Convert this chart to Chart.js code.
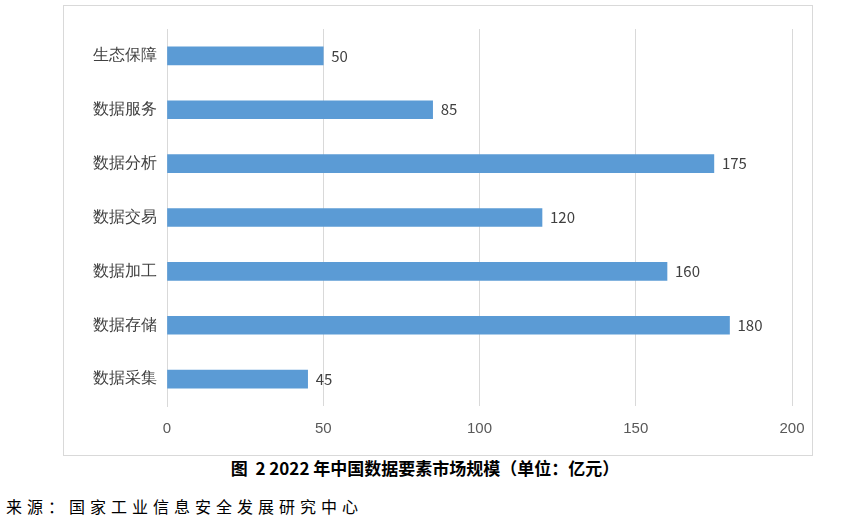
<!DOCTYPE html>
<html><head><meta charset="utf-8">
<script src="https://cdn.jsdelivr.net/npm/chart.js@4"></script>
<style>
body{margin:0;width:850px;height:518px;background:#fff;font-family:"Noto Sans CJK SC",sans-serif;position:relative}
#box{position:absolute;left:63px;top:5px;width:748px;height:449px;border:1px solid #d9d9d9}
#cap{position:absolute;top:455px;left:0;width:850px;text-align:center;font-size:17px;font-weight:bold;color:#000}
#src{position:absolute;top:494px;left:6px;font-size:16px;color:#000;letter-spacing:5px}
</style></head><body>
<div id="box"><canvas id="c"></canvas></div>
<div id="cap">图&nbsp; 2 2022 年中国数据要素市场规模（单位：亿元）</div>
<div id="src">来源：国家工业信息安全发展研究中心</div>
<script>
const categories = ['生态保障','数据服务','数据分析','数据交易','数据加工','数据存储','数据采集'];
const values = [50,85,175,120,160,180,45];

const labelPlugin = {
  id:'lbl',
  afterDatasetsDraw(chart){
    const ctx = chart.ctx;
    ctx.save();
    ctx.font = '15px "Noto Sans CJK SC"';
    ctx.fillStyle = '#404040';
    ctx.textBaseline = 'middle';
    chart.getDatasetMeta(0).data.forEach((b,i)=>{
      ctx.fillText(values[i], b.x + 8, b.y);
    });
    ctx.restore();
  }
};

new Chart(document.getElementById('c'), {
  type:'bar',
  data:{labels:categories,datasets:[{data:values,backgroundColor:'#5b9bd5',barThickness:18}]},
  options:{
    indexAxis:'y',responsive:true,maintainAspectRatio:false,animation:false,
    layout:{padding:{top:23,right:20,bottom:0,left:0}},
    plugins:{legend:{display:false},tooltip:{enabled:false}},
    scales:{
      x:{min:0,max:200,ticks:{stepSize:50,color:'#595959',font:{size:15},padding:14},
         grid:{color:'#d9d9d9',drawTicks:false},border:{display:false},
         afterFit(s){s.height=49;s.paddingRight=0;s.paddingLeft=0;}},
      y:{ticks:{color:'#404040',font:{size:16},padding:10},
         grid:{display:false,drawTicks:false},border:{color:'#d9d9d9'},
         afterFit(s){s.width=103;}}
    }
  },
  plugins:[labelPlugin]
});
</script>
</body></html>
